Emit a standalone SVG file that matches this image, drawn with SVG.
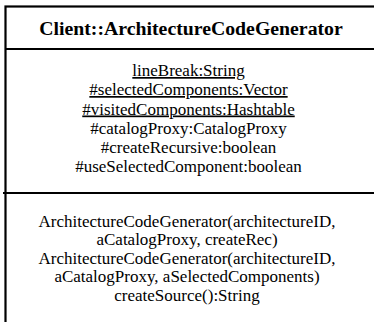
<svg xmlns="http://www.w3.org/2000/svg" width="374" height="322" viewBox="0 0 374 322">
<style>
.box{fill:#fff;stroke:#000;stroke-width:2.2}
.sep{stroke:#000;stroke-width:2.2}
text{font-family:'Liberation Serif','Times New Roman',Times,serif;font-size:17px;fill:#000;text-anchor:middle}
.title{font-weight:bold;font-size:19.8px}
.u{text-decoration:underline}
</style>
<rect width="374" height="322" fill="#fff"/>
<g id="class-ArchitectureCodeGenerator">
<rect class="box" x="5.5" y="6.5" width="372" height="330"/>
<line class="sep" x1="5.5" y1="49" x2="378" y2="49"/>
<line class="sep" x1="3" y1="193" x2="378" y2="193"/>
<text class="title" x="191" y="35">Client::ArchitectureCodeGenerator</text>
<text class="u" x="188.5" y="76">lineBreak:String</text>
<text class="u" x="188.5" y="95">#selectedComponents:Vector</text>
<text class="u" x="188.5" y="114.5">#visitedComponents:Hashtable</text>
<text x="188.5" y="133.5">#catalogProxy:CatalogProxy</text>
<text x="188.5" y="152.5">#createRecursive:boolean</text>
<text x="188.5" y="171.5">#useSelectedComponent:boolean</text>
<text x="187" y="226.5">ArchitectureCodeGenerator(architectureID,</text>
<text x="187" y="245">aCatalogProxy, createRec)</text>
<text x="187" y="263.5">ArchitectureCodeGenerator(architectureID,</text>
<text x="187" y="282">aCatalogProxy, aSelectedComponents)</text>
<text x="187" y="300.5">createSource():String</text>
</g>
<g id="connectors"></g>
</svg>
